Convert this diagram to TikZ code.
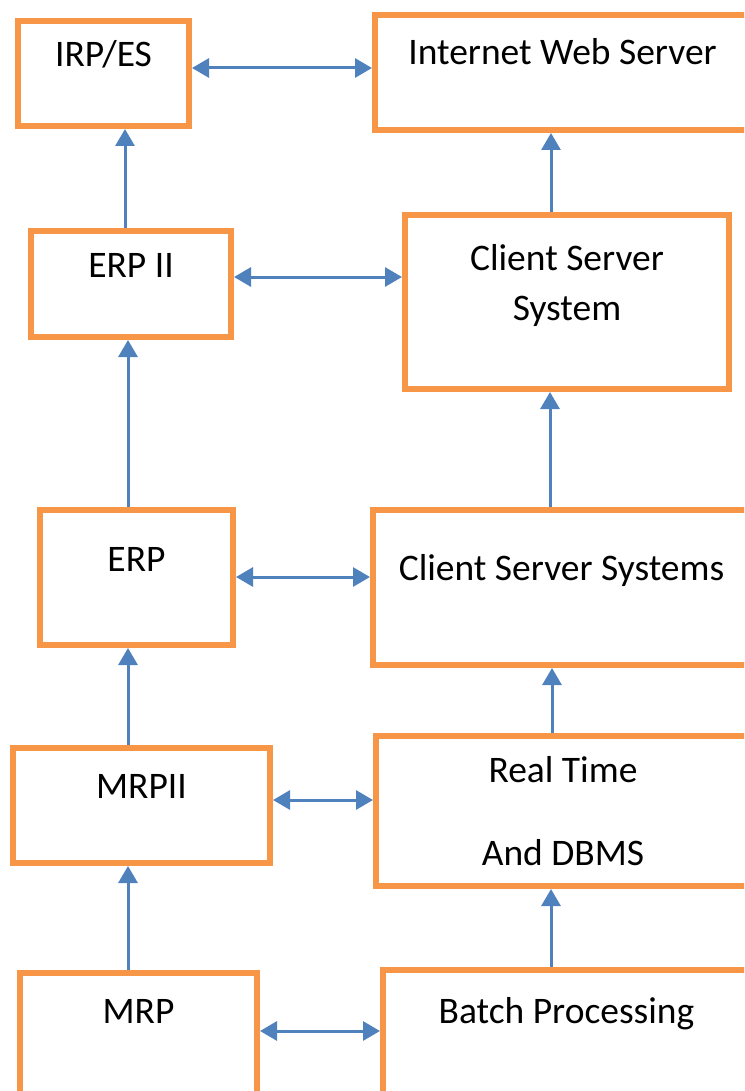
\documentclass[tikz,border=0pt]{standalone}
\usepackage{fontspec}
\setmainfont{Carlito}
\usepackage{xcolor}
\usepackage{tikz}
\usetikzlibrary{arrows.meta}
\definecolor{boxorange}{HTML}{F79646}
\definecolor{linkblue}{HTML}{4F81BD}

\begin{document}
\begin{tikzpicture}[x=1pt, y=-1pt, >={Triangle[length=17pt, width=19pt]},
			stage/.style={draw=boxorange, line width=6pt, fill=white, inner sep=0pt, anchor=north west},
			link/.style={draw=linkblue, fill=linkblue, line width=3pt},
			every label/.style={font=\fontsize{37.5}{50}\selectfont, align=center},
			intext/.style={anchor=base, yshift=-#1}]
		\useasboundingbox (0,0) rectangle (744,1091);
		\clip (0,0) rectangle (744,1091);

		\node[stage, minimum width=171pt, minimum height=105pt, label={[intext=49pt]north:IRP/ES}] (irp) at (15,18) {};
		\node[stage, minimum width=375pt, minimum height=115pt, label={[intext=53pt]north:Internet Web Server}] (iws) at (372,12) {};
		\node[stage, minimum width=200pt, minimum height=106pt, label={[intext=49pt]north:ERP II}] (erpii) at (28,228) {};
		\node[stage, minimum width=324pt, minimum height=174pt, label={[intext=108pt]north:{Client Server\\System}}] (css) at (402,212) {};
		\node[stage, minimum width=193pt, minimum height=135pt, label={[intext=64pt]north:ERP}] (erp) at (37,507) {};
		\node[stage, minimum width=377pt, minimum height=155pt, label={[intext=73pt]north:Client Server Systems}] (csss) at (370,507) {};
		\node[stage, minimum width=257pt, minimum height=115pt, label={[intext=53pt]north:MRPII}] (mrpii) at (10,745) {};
		\node[stage, minimum width=374pt, minimum height=150pt, label={[intext=132pt]north:{Real Time\\[33pt]And DBMS}}] (rt) at (373,733) {};
		\node[stage, minimum width=237pt, minimum height=137pt, label={[intext=53pt]north:MRP}] (mrp) at (17,970) {};
		\node[stage, minimum width=367pt, minimum height=140pt, label={[intext=56pt]north:Batch Processing}] (batch) at (380,967) {};

		\draw[link, <->] (irp.east |- 0,68) -- (iws.west |- 0,68);
		\draw[link, <->] (erpii.east |- 0,277) -- (css.west |- 0,277);
		\draw[link, <->] (erp.east |- 0,577) -- (csss.west |- 0,577);
		\draw[link, <->] (mrpii.east |- 0,800) -- (rt.west |- 0,800);
		\draw[link, <->] (mrp.east |- 0,1031) -- (batch.west |- 0,1031);

		\draw[link, ->] (erpii.north -| 125,0) -- (irp.south -| 125,0);
		\draw[link, ->] (erp.north -| 128,0) -- (erpii.south -| 128,0);
		\draw[link, ->] (mrpii.north -| 128,0) -- (erp.south -| 128,0);
		\draw[link, ->] (mrp.north -| 128,0) -- (mrpii.south -| 128,0);
		\draw[link, ->] (css.north -| 551,0) -- (iws.south -| 551,0);
		\draw[link, ->] (csss.north -| 550,0) -- (css.south -| 550,0);
		\draw[link, ->] (rt.north -| 552,0) -- (csss.south -| 552,0);
		\draw[link, ->] (batch.north -| 551,0) -- (rt.south -| 551,0);
	\end{tikzpicture}
\end{document}
